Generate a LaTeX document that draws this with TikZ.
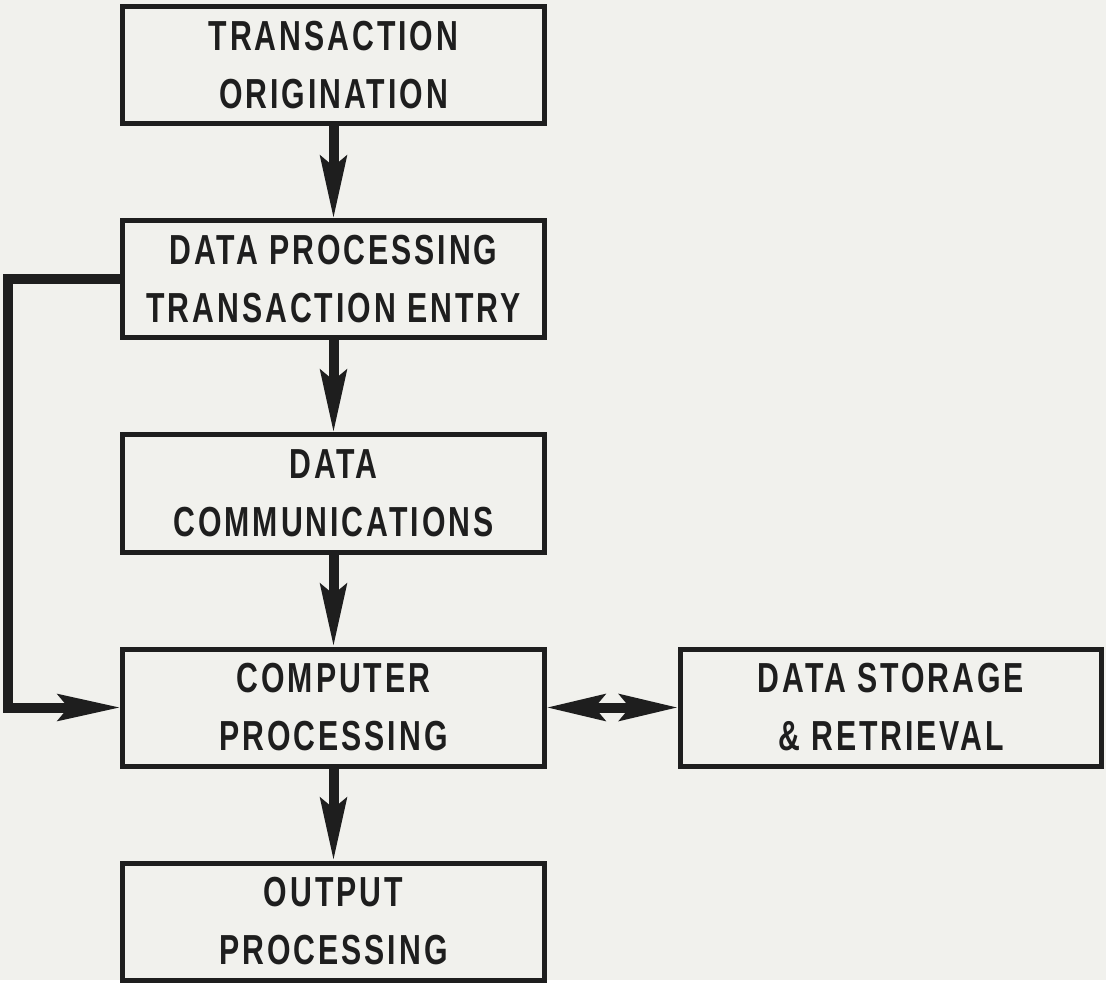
\documentclass[tikz,border=0pt]{standalone}
\usepackage{fontspec}
\newfontfamily\boxfont{Liberation Sans}[FakeStretch=0.72,LetterSpace=7]
\usetikzlibrary{arrows.meta,positioning,backgrounds}
\definecolor{paper}{RGB}{241,241,237}
\definecolor{ink}{RGB}{30,30,30}
\tikzset{
    block/.style = {draw=ink, rectangle, line width=2.5pt,
        minimum height=58.5pt, minimum width=210.5pt, align=center,
        text=ink, font=\boxfont\bfseries\fontsize{21}{29}\selectfont},
    flow/.style = {draw=ink, line width=5pt, -{Stealth[length=31pt,width=13pt,inset=5pt]}},
    both/.style = {draw=ink, line width=5pt,
        {Stealth[length=29pt,width=13pt,inset=5pt]}-{Stealth[length=29pt,width=13pt,inset=5pt]}}
}
\begin{document}
\begin{tikzpicture}[node distance=107pt]
    \node [block] (orig) {TRANSACTION\\ORIGINATION};
    \node [block, below of=orig] (entry) {DATA PROCESSING\\TRANSACTION ENTRY};
    \node [block, below of=entry] (comm) {DATA\\COMMUNICATIONS};
    \node [block, below of=comm] (comp) {COMPUTER\\PROCESSING};
    \node [block, below of=comp] (outp) {OUTPUT\\PROCESSING};
    \node [block, right of=comp, node distance=278.75pt] (store) {DATA STORAGE\\\& RETRIEVAL};
    % main chain
    \foreach \a/\b in {orig/entry,entry/comm,comm/comp,comp/outp}{
        \draw [flow] (\a) -- (\b);
    }
    \draw [both] (comp) -- (store);
    % bypass round the communications link
    \draw [flow] (entry.west) -- ++(-56pt,0) |- (comp.west);
    \begin{scope}[on background layer]
        \fill [paper] (-166.75pt,32.75pt) rectangle (386.25pt,-457.25pt);
    \end{scope}
\end{tikzpicture}
\end{document}
